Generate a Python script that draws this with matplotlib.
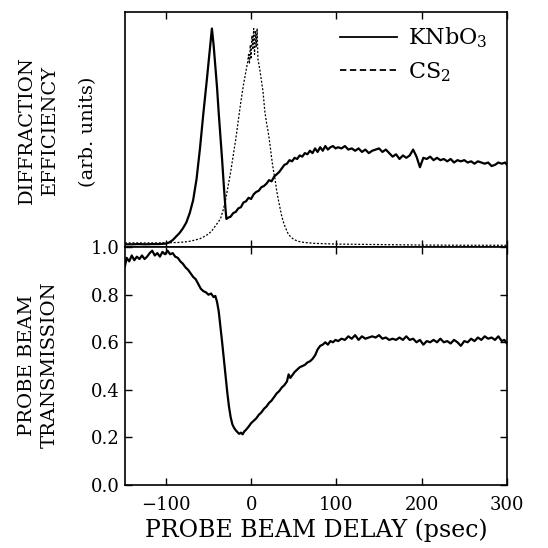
"""
Transient grating diffraction and probe transmission vs. probe delay.
KNbO3 sample with CS2 reference, two stacked panels sharing the delay axis.
"""

import matplotlib
matplotlib.use("Agg")
import matplotlib.pyplot as plt
from matplotlib.lines import Line2D


# ─────────────────────────────────────────────
# 1. DATA
# ─────────────────────────────────────────────

# upper panel, KNbO3 diffraction efficiency (arb. units, 0..1 = panel height)
knbo3_delay = [-148, -140, -132, -124, -116, -108, -100, -96, -92, -88, -84, -80, -76, -72,
               -68, -64, -60, -56, -52, -49, -46, -44, -42, -40, -38, -36, -34, -32, -30,
               -29, -27, -24, -21, -18, -15, -12, -9, -6, -3, 0, 3, 6, 9, 12, 15, 18, 21,
               24, 27, 30, 33, 36, 39, 42, 45, 48, 51, 54, 57, 60, 63, 66, 69, 72, 75, 78,
               81, 84, 87, 90, 93, 96, 99, 102, 106, 110, 114, 118, 122, 126, 130, 134,
               138, 142, 146, 150, 154, 158, 162, 166, 170, 174, 178, 182, 186, 190, 194,
               198, 202, 206, 210, 214, 218, 222, 226, 230, 234, 238, 242, 246, 250, 254,
               258, 262, 266, 270, 274, 278, 282, 286, 290, 294, 298, 300]
knbo3_diff = [0.012, 0.012, 0.013, 0.012, 0.013, 0.013, 0.015, 0.02, 0.03, 0.045, 0.06, 0.08,
              0.105, 0.145, 0.2, 0.29, 0.42, 0.57, 0.71, 0.82, 0.93, 0.86, 0.77, 0.68, 0.57,
              0.47, 0.37, 0.26, 0.16, 0.12, 0.125, 0.13, 0.145, 0.15, 0.165, 0.17, 0.19,
              0.195, 0.21, 0.205, 0.225, 0.235, 0.24, 0.255, 0.26, 0.27, 0.285, 0.28, 0.30,
              0.31, 0.32, 0.335, 0.35, 0.355, 0.37, 0.365, 0.38, 0.375, 0.39, 0.385, 0.40,
              0.395, 0.41, 0.40, 0.42, 0.405, 0.425, 0.41, 0.43, 0.415, 0.425, 0.43, 0.42,
              0.425, 0.42, 0.43, 0.415, 0.42, 0.41, 0.42, 0.405, 0.415, 0.40, 0.41, 0.415,
              0.42, 0.405, 0.415, 0.40, 0.385, 0.395, 0.375, 0.39, 0.38, 0.39, 0.415, 0.385,
              0.34, 0.38, 0.375, 0.385, 0.37, 0.38, 0.37, 0.375, 0.365, 0.375, 0.36, 0.37,
              0.365, 0.37, 0.36, 0.365, 0.355, 0.365, 0.36, 0.355, 0.36, 0.345, 0.35, 0.36,
              0.355, 0.36, 0.35]

# upper panel, CS2 reference signal
cs2_delay = [-148, -130, -110, -95, -85, -78, -72, -66, -60, -55, -50, -46, -42, -39, -36,
             -33, -30, -27, -24, -21, -18, -15, -12, -9, -6, -4, -3, -2, -1, 0, 1, 2, 3, 4,
             5, 6, 7, 8, 10, 12, 14, 16, 18, 20, 22, 24, 26, 28, 30, 32, 34, 36, 38, 40, 43,
             46, 50, 55, 62, 75, 100, 150, 200, 250, 300]
cs2_diff = [0.018, 0.018, 0.018, 0.019, 0.02, 0.022, 0.025, 0.03, 0.036, 0.045, 0.056, 0.07,
            0.09, 0.105, 0.12, 0.155, 0.20, 0.26, 0.32, 0.39, 0.46, 0.54, 0.62, 0.69, 0.75,
            0.79, 0.82, 0.78, 0.86, 0.80, 0.90, 0.84, 0.93, 0.82, 0.92, 0.85, 0.93, 0.80,
            0.76, 0.71, 0.66, 0.58, 0.53, 0.49, 0.44, 0.38, 0.33, 0.29, 0.24, 0.20, 0.165,
            0.13, 0.105, 0.085, 0.06, 0.045, 0.033, 0.025, 0.02, 0.016, 0.013, 0.011, 0.009,
            0.008, 0.008]

# lower panel, probe beam transmission
trans_delay = [-148, -146, -143, -140, -137, -134, -131, -128, -125, -122, -119, -116, -113,
               -110, -107, -104, -101, -98, -95, -92, -89, -86, -83, -80, -77, -74, -71,
               -68, -65, -62, -59, -56, -53, -50, -47, -44, -42, -40, -38, -36, -34, -32,
               -30, -28, -26, -24, -22, -20, -18, -16, -14, -12, -10, -8, -6, -3, 0, 3, 6,
               9, 12, 15, 18, 21, 24, 27, 30, 33, 36, 39, 42, 44, 46, 48, 51, 54, 57, 60,
               63, 66, 69, 72, 75, 78, 81, 84, 87, 90, 93, 96, 99, 102, 106, 110, 114, 118,
               122, 126, 130, 134, 138, 142, 146, 150, 154, 158, 162, 166, 170, 174, 178,
               182, 186, 190, 194, 198, 202, 206, 210, 214, 218, 222, 226, 230, 234, 238,
               242, 246, 250, 254, 258, 262, 266, 270, 274, 278, 282, 286, 290, 294, 297, 300]
trans = [0.92, 0.955, 0.94, 0.965, 0.945, 0.96, 0.95, 0.965, 0.95, 0.96, 0.975, 0.985, 0.965,
         0.975, 0.96, 0.98, 0.97, 0.985, 0.97, 0.975, 0.96, 0.955, 0.94, 0.93, 0.915, 0.905,
         0.89, 0.875, 0.865, 0.845, 0.825, 0.815, 0.81, 0.80, 0.805, 0.79, 0.795, 0.77,
         0.73, 0.665, 0.60, 0.53, 0.46, 0.39, 0.33, 0.285, 0.255, 0.24, 0.23, 0.222, 0.215,
         0.22, 0.213, 0.225, 0.232, 0.245, 0.26, 0.27, 0.28, 0.295, 0.305, 0.32, 0.33,
         0.345, 0.355, 0.37, 0.385, 0.395, 0.41, 0.42, 0.435, 0.465, 0.45, 0.46, 0.475,
         0.485, 0.495, 0.50, 0.505, 0.515, 0.52, 0.53, 0.545, 0.57, 0.585, 0.59, 0.60, 0.59,
         0.605, 0.60, 0.61, 0.605, 0.615, 0.61, 0.625, 0.615, 0.63, 0.61, 0.625, 0.615,
         0.62, 0.625, 0.62, 0.63, 0.615, 0.62, 0.61, 0.615, 0.61, 0.62, 0.61, 0.625, 0.61,
         0.615, 0.60, 0.61, 0.59, 0.605, 0.60, 0.61, 0.60, 0.615, 0.60, 0.605, 0.595, 0.61,
         0.60, 0.585, 0.605, 0.60, 0.615, 0.605, 0.62, 0.61, 0.625, 0.615, 0.62, 0.61,
         0.625, 0.605, 0.61, 0.595]

x_ticks = [-100, 0, 100, 200, 300]
y_ticks = [0.0, 0.2, 0.4, 0.6, 0.8, 1.0]


# ─────────────────────────────────────────────
# 2. STYLE
# ─────────────────────────────────────────────

plt.rcParams["font.family"] = ["DejaVu Serif"]
plt.rcParams["mathtext.fontset"] = "dejavuserif"

XLIM = (-148, 300)


def style_axes(ax):
    ax.set_xlim(*XLIM)
    ax.set_xticks(x_ticks)
    ax.tick_params(axis="x", direction="in", top=True, bottom=True, length=5, width=1.0)
    ax.tick_params(axis="y", direction="in", left=True, right=True, length=5, width=1.0)
    for sp in ax.spines.values():
        sp.set_linewidth(1.2)


# ─────────────────────────────────────────────
# 3. PLOT
# ─────────────────────────────────────────────

def main():
    fig = plt.figure(figsize=(5.48, 5.48), dpi=100)
    ax_top = fig.add_axes([0.228, 0.549, 0.697, 0.429])
    ax_bot = fig.add_axes([0.228, 0.115, 0.697, 0.434])

    # upper panel: diffraction efficiency
    ax_top.plot(knbo3_delay, knbo3_diff, color="black", lw=1.6)
    ax_top.plot(cs2_delay, cs2_diff, color="black", lw=0.9, dashes=(1.6, 1.4))
    ax_top.set_ylim(0, 1)
    style_axes(ax_top)
    ax_top.set_yticks([])
    ax_top.tick_params(axis="x", labelbottom=False)

    handles = [Line2D([], [], color="black", lw=1.3),
               Line2D([], [], color="black", lw=1.3, dashes=(3.5, 2))]
    ax_top.legend(handles, [r"KNbO$_3$", r"CS$_2$"], loc="upper right", frameon=False,
                  fontsize=16, handlelength=2.6, handletextpad=0.5, labelspacing=0.45,
                  borderaxespad=0.2, bbox_to_anchor=(0.985, 1.0))

    # lower panel: probe transmission
    ax_bot.plot(trans_delay, trans, color="black", lw=1.6)
    ax_bot.set_ylim(0, 1)
    style_axes(ax_bot)
    ax_bot.set_yticks(y_ticks)
    ax_bot.set_yticklabels([f"{v:.1f}" for v in y_ticks], fontsize=13)
    ax_bot.set_xticklabels([f"{v}" if v >= 0 else f"\u2212{abs(v)}" for v in x_ticks],
                           fontsize=13)
    ax_bot.tick_params(axis="x", pad=8)
    ax_bot.set_xlabel("PROBE BEAM DELAY (psec)", fontsize=17, labelpad=3)

    # stacked y labels, placed by hand like the original
    fig.text(0.050, 0.763, "DIFFRACTION", rotation=90, ha="center", va="center", fontsize=14)
    fig.text(0.092, 0.763, "EFFICIENCY", rotation=90, ha="center", va="center", fontsize=14)
    fig.text(0.160, 0.760, "(arb. units)", rotation=90, ha="center", va="center", fontsize=14)
    fig.text(0.050, 0.334, "PROBE BEAM", rotation=90, ha="center", va="center", fontsize=14)
    fig.text(0.090, 0.334, "TRANSMISSION", rotation=90, ha="center", va="center", fontsize=14)

    fig.savefig("out.png", dpi=100)


if __name__ == "__main__":
    main()
